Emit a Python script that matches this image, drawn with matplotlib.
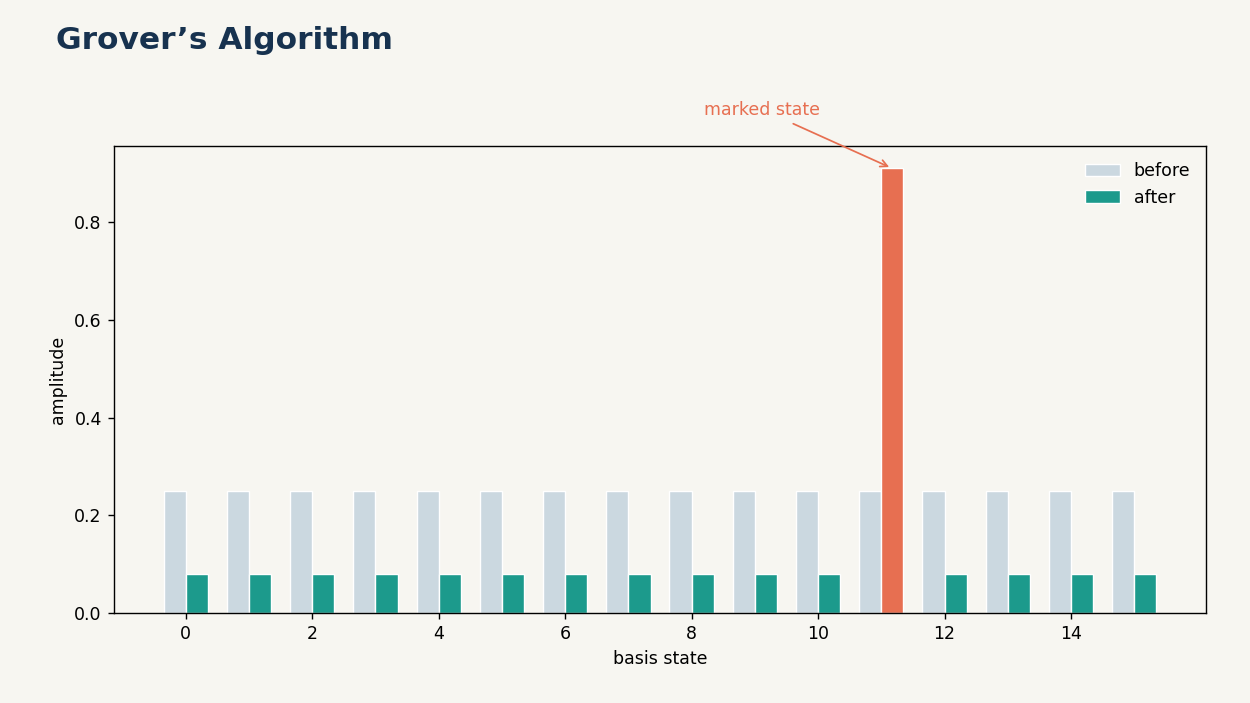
import numpy as np
import matplotlib.pyplot as plt

# amplitudes
states = np.arange(16)
before = [0.25] * 16
after = [0.08] * 11 + [0.91] + [0.08] * 4
marked = 11

bg = '#F7F6F1'
col_before = '#CBD8E0'
col_after = '#1C9A8C'
col_marked = '#E76F51'

fig, ax = plt.subplots(figsize=(10, 5.624), dpi=125)
fig.patch.set_facecolor(bg)
ax.set_facecolor(bg)

w = 0.35
ax.bar(states - w / 2, before, width=w, color=col_before, edgecolor='white', linewidth=0.8, label='before')
colors = [col_marked if s == marked else col_after for s in states]
ax.bar(states + w / 2, after, width=w, color=colors, edgecolor='white', linewidth=0.8, label='after')

ax.annotate('marked state', xy=(marked + w / 2, after[marked]), xytext=(9.12, 1.03),
            textcoords='data', ha='center', va='center', fontsize=10, color=col_marked,
            arrowprops=dict(arrowstyle='->', color=col_marked, lw=1.0),
            annotation_clip=False)

ax.set_xticks(np.arange(0, 16, 2))
ax.set_xlabel('basis state')
ax.set_ylabel('amplitude')
ax.legend(frameon=False, loc='upper right')

fig.text(0.045, 0.943, 'Grover\u2019s Algorithm', fontsize=18, fontweight='bold',
         color='#17324F', va='center')

plt.subplots_adjust(left=0.0912, right=0.9648, top=0.792, bottom=0.128)
plt.savefig('out.png', facecolor=bg)
